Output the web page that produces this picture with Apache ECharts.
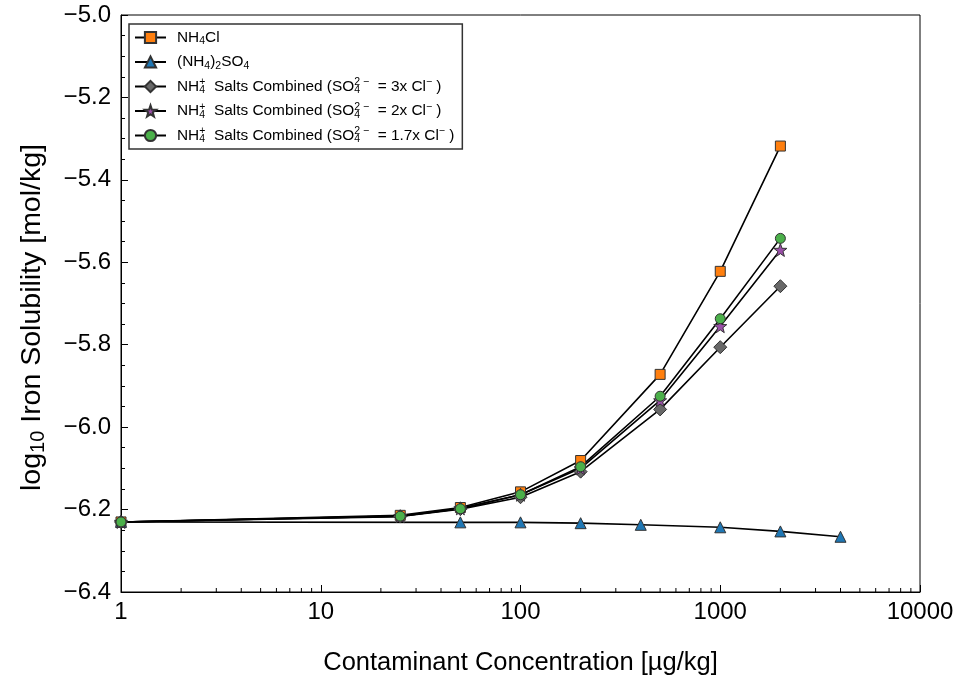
<!DOCTYPE html>
<html><head><meta charset="utf-8">
<script src="https://cdn.jsdelivr.net/npm/echarts@6/dist/echarts.min.js"></script>
<style>html,body{margin:0;padding:0;background:#fff}#c{width:961px;height:681px}</style>
</head><body><div id="c"></div>
<script>
// ---- data ----
const concentrations = [1, 25, 50, 100, 200, 500, 1000, 2000];
const sulfateConcentrations = [1, 50, 100, 200, 400, 1000, 2000, 4000];
const nh4clValues   = [-6.230, -6.214, -6.195, -6.157, -6.081, -5.872, -5.622, -5.318];
const sulfateValues = [-6.230, -6.231, -6.231, -6.233, -6.237, -6.243, -6.253, -6.266];
const comb3xValues  = [-6.230, -6.217, -6.199, -6.170, -6.108, -5.957, -5.806, -5.658];
const comb2xValues  = [-6.230, -6.216, -6.197, -6.164, -6.100, -5.935, -5.755, -5.570];
const comb17xValues = [-6.230, -6.216, -6.198, -6.164, -6.096, -5.925, -5.737, -5.542];
const xTickLabels = [1, 10, 100, 1000, 10000];
const xMinorTicks = [2,3,4,5,6,7,8,9,20,30,40,50,60,70,80,90,200,300,400,500,600,700,800,900,2000,3000,4000,5000,6000,7000,8000,9000];
const yMin = -6.4, yMax = -5.0, yStep = 0.2;
const seriesNames = ['NH4Cl', '(NH4)2SO4', 'comb3x', 'comb2x', 'comb17x'];

const legendRich = {
  'NH4Cl': '{n|NH}{s|4}{n|Cl}',
  '(NH4)2SO4': '{n|(NH}{s|4}{n|)}{s|2}{n|SO}{s|4}',
  'comb3x': '{n|NH}{z|4}{p|+}{n|  Salts Combined (SO}{z|4}{p|2 −}{n|  = 3x Cl}{p|−}{n| )}',
  'comb2x': '{n|NH}{z|4}{p|+}{n|  Salts Combined (SO}{z|4}{p|2 −}{n|  = 2x Cl}{p|−}{n| )}',
  'comb17x': '{n|NH}{z|4}{p|+}{n|  Salts Combined (SO}{z|4}{p|2 −}{n|  = 1.7x Cl}{p|−}{n| )}'
};

const STAR = 'path://M0,-10L2.35,-3.24L9.51,-3.09L3.8,1.24L5.88,8.09L0,4.2L-5.88,8.09L-3.8,1.24L-9.51,-3.09L-2.35,-3.24Z';

function pairs(xs, ys) { return xs.map((x, i) => [x, ys[i]]); }
function mkSeries(name, xs, ys, symbol, size, color) {
  return {
    name, type: 'line', data: pairs(xs, ys), symbol, symbolSize: size,
    lineStyle: { color: '#000', width: 1.6 },
    itemStyle: { color, borderColor: '#333', borderWidth: 1 },
    emphasis: { disabled: true }, animation: false
  };
}

const FONT = '"Liberation Sans", Arial, Helvetica, sans-serif';
const chart = echarts.init(document.getElementById('c'), null, { renderer: 'canvas' });
chart.setOption({
  animation: false,
  backgroundColor: '#fff',
  textStyle: { fontFamily: FONT },
  grid: { left: 121, right: 41, top: 15, bottom: 88, show: true, borderColor: '#000', borderWidth: 1, backgroundColor: 'transparent' },
  xAxis: {
    type: 'log', logBase: 10, min: xTickLabels[0], max: xTickLabels[xTickLabels.length - 1], splitNumber: 4,
    axisLine: { show: true, lineStyle: { color: '#000', width: 1 } },
    axisTick: { show: true, inside: true, length: 7, lineStyle: { color: '#000', width: 1 } },
    minorTick: { show: false },
    splitLine: { show: false },
    axisLabel: { color: '#000', fontSize: 24, fontFamily: FONT, margin: 8, formatter: v => String(Math.round(v)) },
    name: 'Contaminant Concentration [µg/kg]', nameLocation: 'middle', nameGap: 58,
    nameTextStyle: { color: '#000', fontSize: 25.5, fontFamily: FONT }
  },
  yAxis: {
    type: 'value', min: yMin, max: yMax, interval: yStep,
    axisLine: { show: true, lineStyle: { color: '#000', width: 1 } },
    axisTick: { show: true, inside: true, length: 7, lineStyle: { color: '#000', width: 1 } },
    minorTick: { show: true, splitNumber: 4, length: 4, lineStyle: { color: '#000', width: 1 } },
    splitLine: { show: false },
    axisLabel: { color: '#000', fontSize: 24, fontFamily: FONT, margin: 10,
      formatter: v => v.toFixed(1).replace('-', '\u2212') },
    name: '{a|log}{b|10}{a| Iron Solubility [mol/kg]}', nameLocation: 'middle', nameRotate: 90, nameGap: 73,
    nameTextStyle: { color: '#000', fontFamily: FONT, padding: [0, 28, 0, 0],
      rich: { a: { fontSize: 28.5, fontFamily: FONT, color: '#000' },
              b: { fontSize: 20, fontFamily: FONT, color: '#000', padding: [11, 0, 0, 0] } } }
  },
  legend: {
    data: seriesNames, orient: 'vertical', left: 129, top: 24,
    itemWidth: 31, itemHeight: 14, itemGap: 5.5,
    padding: [4, 8, 4, 5],
    borderColor: '#333', borderWidth: 1.5, backgroundColor: '#fff',
    selectedMode: false,
    formatter: name => legendRich[name],
    textStyle: {
      color: '#000', fontFamily: FONT, padding: [0, 0, 0, 6],
      rich: {
        n: { fontSize: 15.4, lineHeight: 17, fontFamily: FONT, color: '#000' },
        s: { fontSize: 10.5, lineHeight: 10.5, fontFamily: FONT, color: '#000', padding: [8, 0, 0, 0] },
        z: { fontSize: 10.5, lineHeight: 10.5, fontFamily: FONT, color: '#000', padding: [8, 0, 0, 0], width: 0 },
        p: { fontSize: 10.5, lineHeight: 10.5, fontFamily: FONT, color: '#000', padding: [0, 0, 8, 0] }
      }
    }
  },
  series: [
    {
      type: 'custom', name: 'minorTicks', silent: true, z: 1,
      data: xMinorTicks.map(v => [v, yMin]),
      renderItem: (params, api) => {
        const p = api.coord([api.value(0), api.value(1)]);
        return { type: 'line', shape: { x1: p[0], y1: p[1], x2: p[0], y2: p[1] - 4 }, style: { stroke: '#000', lineWidth: 1 } };
      }
    },
    mkSeries('NH4Cl', concentrations, nh4clValues, 'rect', 10, '#ff7f0e'),
    mkSeries('(NH4)2SO4', sulfateConcentrations, sulfateValues, 'triangle', 11, '#1f77b4'),
    mkSeries('comb3x', concentrations, comb3xValues, 'diamond', 13, '#686868'),
    mkSeries('comb2x', concentrations, comb2xValues, STAR, 13, '#9a4fa8'),
    mkSeries('comb17x', concentrations, comb17xValues, 'circle', 10, '#4bb04a')
  ]
});
</script></body></html>
